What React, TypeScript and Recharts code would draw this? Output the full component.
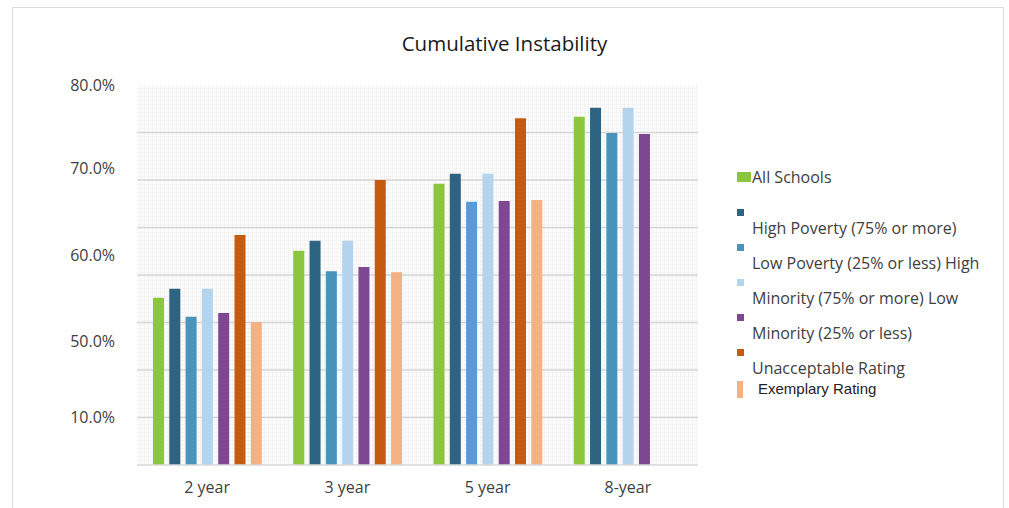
import { BarChart, Bar, XAxis, YAxis, CartesianGrid, Cell } from 'recharts';

// ─── Data ─────────────────────────────────────────────────────────────────────

const categories = ['2 year', '3 year', '5 year', '8-year'];

const allSchools = [35.2, 45.1, 59.2, 73.3];
const highPoverty = [37.1, 47.2, 61.3, 75.2];
const lowPoverty = [31.2, 40.8, 55.4, 69.9];
const minorityHigh = [37.1, 47.2, 61.3, 75.2];
const minorityLow = [32.0, 41.7, 55.6, 69.7];
const unacceptable = [48.4, 60.0, 73.0, null];
const exemplary = [30.1, 40.6, 55.8, null];

// the source chart prints these labels at these axis positions
const tickValues = [10, 26, 44.2, 62.4, 80];
const tickLabels = ['10.0%', '50.0%', '60.0%', '70.0%', '80.0%'];
const gridValues = [10, 20, 30, 40, 50, 60, 70];

const series = [
  { key: 'all', name: 'All Schools', values: allSchools, color: '#8CC63F' },
  { key: 'hp', name: 'High Poverty (75% or more)', values: highPoverty, color: '#2E6382' },
  { key: 'lp', name: 'Low Poverty (25% or less) High', values: lowPoverty, color: '#4A93BB' },
  { key: 'mh', name: 'Minority (75% or more) Low', values: minorityHigh, color: '#B4D4EE' },
  { key: 'ml', name: 'Minority (25% or less)', values: minorityLow, color: '#7E4794' },
  { key: 'un', name: 'Unacceptable Rating', values: unacceptable, color: '#C55A11' },
  { key: 'ex', name: 'Exemplary Rating', values: exemplary, color: '#F4B183' },
];

// the 5 year "Low Poverty" bar is a lighter blue in the source
const lowPovertyColors = ['#4A93BB', '#4A93BB', '#5B9BD5', '#4A93BB'];

const rows = categories.map((c, i) => {
  const row: Record<string, string | number | null> = { name: c };
  series.forEach((s) => { row[s.key] = s.values[i]; });
  return row;
});

const FONT = '"Open Sans", sans-serif';

// ─── Legend (quirky layout copied from the source) ───────────────────────────

function LegendBlock() {
  const first = series[0];
  const middle = series.slice(1, 6);
  const last = series[6];
  return (
    <div style={{ position: 'absolute', left: 737, top: 167, fontFamily: FONT, fontSize: 16, color: '#404040' }}>
      <div style={{ display: 'flex', alignItems: 'center', height: 20 }}>
        <span style={{ width: 14, height: 10, background: first.color, display: 'inline-block', marginRight: 1 }} />
        <span>{first.name}</span>
      </div>
      <div style={{ height: 22 }} />
      {middle.map((s) => (
        <div key={s.key} style={{ height: 35, position: 'relative' }}>
          <span style={{ position: 'absolute', left: 0, top: 0, width: 7, height: 7, background: s.color }} />
          <span style={{ position: 'absolute', left: 15, top: 9, lineHeight: '20px', whiteSpace: 'nowrap' }}>{s.name}</span>
        </div>
      ))}
      <div style={{ position: 'relative', height: 20, marginTop: -6 }}>
        <span style={{ position: 'absolute', left: 0, top: 3, width: 6, height: 17, background: last.color }} />
        <span style={{ position: 'absolute', left: 21, top: 1, lineHeight: '20px', whiteSpace: 'nowrap', fontFamily: '"Liberation Sans", Arial, sans-serif', fontSize: 15, color: '#222' }}>
          {last.name}
        </span>
      </div>
    </div>
  );
}

// ─── Chart ────────────────────────────────────────────────────────────────────

export default function App() {
  return (
    <div style={{ position: 'absolute', left: 0, top: 0, width: 1009, height: 508, background: '#fff', overflow: 'hidden' }}>
      <div style={{ position: 'absolute', left: 12, top: 7, width: 992, height: 510, border: '1px solid #DADADA', boxSizing: 'border-box' }} />
      <div style={{ position: 'absolute', left: 0, width: 1009, top: 29, textAlign: 'center', fontFamily: FONT, fontSize: 20.5, color: '#1A1A1A', lineHeight: '28px' }}>
        Cumulative Instability
      </div>
      <BarChart
        width={1009}
        height={508}
        data={rows}
        margin={{ top: 85, right: 311, bottom: 13, left: 0 }}
        barSize={11}
        barGap={5.3}
        style={{ position: 'absolute', left: 0, top: 0 }}
      >
        <defs>
          <pattern id="mesh" width="4" height="4" patternUnits="userSpaceOnUse">
            <rect width="4" height="4" fill="#FBFBFB" />
            <path d="M 4 0 L 0 0 0 4" fill="none" stroke="#E9E9E9" strokeWidth="0.7" />
          </pattern>
        </defs>
        <CartesianGrid
          vertical={false}
          horizontalValues={gridValues}
          stroke="#D6D6D6"
          strokeWidth={1.5}
          fill="url(#mesh)"
          fillOpacity={1}
        />
        <XAxis
          dataKey="name"
          height={30}
          tickLine={false}
          axisLine={{ stroke: '#D9D9D9', strokeWidth: 1.5 }}
          tickMargin={11}
          tick={{ fontSize: 16, fill: '#404040', fontFamily: FONT }}
        />
        <YAxis
          width={137}
          domain={[0, 80]}
          ticks={tickValues}
          tickFormatter={(v: number) => tickLabels[tickValues.indexOf(v)]}
          tickLine={false}
          axisLine={false}
          tickMargin={16}
          interval={0}
          tick={{ fontSize: 16, fill: '#404040', fontFamily: FONT }}
        />
        {series.map((s) => (
          <Bar key={s.key} dataKey={s.key} name={s.name} fill={s.color} isAnimationActive={false}>
            {s.key === 'lp' && categories.map((c, i) => <Cell key={c} fill={lowPovertyColors[i]} />)}
          </Bar>
        ))}
      </BarChart>
      <LegendBlock />
    </div>
  );
}
